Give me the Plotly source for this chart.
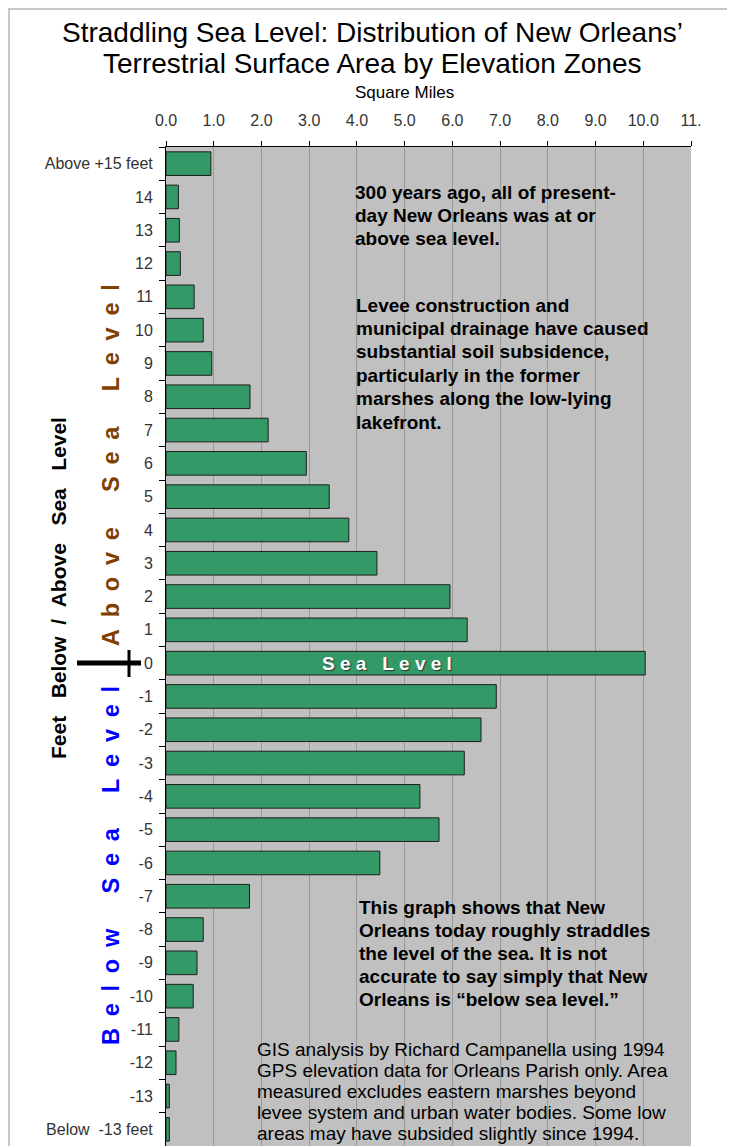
import plotly.graph_objects as go

# elevation zones, top to bottom, and area in square miles
elevation = ["Above +15 feet", "14", "13", "12", "11", "10", "9", "8", "7", "6",
             "5", "4", "3", "2", "1", "0", "-1", "-2", "-3", "-4",
             "-5", "-6", "-7", "-8", "-9", "-10", "-11", "-12", "-13", "Below  -13 feet"]
sq_miles = [0.94, 0.26, 0.28, 0.30, 0.59, 0.78, 0.96, 1.76, 2.14, 2.94,
            3.42, 3.83, 4.42, 5.95, 6.31, 10.04, 6.92, 6.60, 6.25, 5.32,
            5.72, 4.48, 1.75, 0.78, 0.65, 0.57, 0.27, 0.21, 0.07, 0.07]

x_tickvals = [0, 1, 2, 3, 4, 5, 6, 7, 8, 9, 10, 11]
x_ticktext = ["0.0", "1.0", "2.0", "3.0", "4.0", "5.0", "6.0", "7.0", "8.0", "9.0", "10.0", "11."]

title_lines = ["Straddling Sea Level: Distribution of New Orleans’",
               "Terrestrial Surface Area by Elevation Zones"]

note_past = ["300 years ago, all of present-",
             "day New Orleans was at or",
             "above sea level."]
note_levee = ["Levee construction and",
              "municipal drainage have caused",
              "substantial soil subsidence,",
              "particularly in the former",
              "marshes along the low-lying",
              "lakefront."]
note_straddle = ["This graph shows that New",
                 "Orleans today roughly straddles",
                 "the level of the sea. It is not",
                 "accurate to say simply that New",
                 "Orleans is “below sea level.”"]
note_source = ["GIS analysis by Richard Campanella using 1994",
               "GPS elevation data for Orleans Parish only. Area",
               "measured excludes eastern marshes beyond",
               "levee system and urban water bodies. Some low",
               "areas may have subsided slightly since 1994."]

FONT = "Liberation Sans, Arial, sans-serif"

# the page body has an 8px margin, so the figure sits at (8, 8) in the window
OFF = 8
PL, PR, PT, PB = 166, 691, 147, 1146      # plot area in window pixels
W, H = 735 - OFF, 1146 - OFF
ML, MT = PL - OFF, PT - OFF
MR, MB = W - (PR - OFF), H - (PB - OFF)


def px(x):
    return (x - PL) / (PR - PL)


def py(y):
    return (PB - y) / (PB - PT)


def spaced(text, gap="\u2002"):
    words = text.split()
    return (gap * 3).join(gap.join(w) for w in words)


fig = go.Figure()

fig.add_trace(
    go.Bar(
        y=elevation,
        x=sq_miles,
        orientation="h",
        marker=dict(color="#339966", line=dict(color="#1e1e1e", width=1)),
        hovertemplate="%{y}: %{x:.2f} sq mi<extra></extra>",
    )
)

annotations = []

# title, one annotation per line for tight leading
for i, line in enumerate(title_lines):
    annotations.append(dict(
        text=line, xref="paper", yref="paper", x=px(372), y=py(33 + 31 * i),
        xanchor="center", yanchor="middle", showarrow=False,
        font=dict(family=FONT, size=28, color="#000000"),
    ))

annotations.append(dict(
    text="Square Miles", xref="paper", yref="paper", x=px(404), y=py(92),
    xanchor="center", yanchor="middle", showarrow=False,
    font=dict(family=FONT, size=17, color="#000000"),
))


def add_block(lines, x0, y0, step, size, bold):
    for i, line in enumerate(lines):
        annotations.append(dict(
            text=line, xref="paper", yref="paper", x=px(x0), y=py(y0 + step * i),
            xanchor="left", yanchor="middle", showarrow=False,
            font=dict(family=FONT, size=size, color="#000000",
                      weight="bold" if bold else "normal"),
        ))


add_block(note_past, 353, 192, 23.4, 19, True)
add_block(note_levee, 354, 305, 23.4, 19, True)
add_block(note_straddle, 357, 907, 23.0, 19, True)
add_block(note_source, 255, 1049, 21.0, 19, False)

# sea level label inside the zero bar
annotations.append(dict(
    text=spaced("Sea Level", "\u00a0"), xref="x", yref="y",
    x=4.63, y=elevation.index("0"),
    xanchor="center", yanchor="middle", showarrow=False,
    font=dict(family=FONT, size=19, color="#ffffff", weight="bold",
              shadow="1px 1px 1px #333333"),
))

# vertical side labels
annotations.append(dict(
    text="Feet\u00a0\u00a0\u00a0Below\u00a0\u00a0/\u00a0\u00a0Above\u00a0\u00a0\u00a0Sea\u00a0\u00a0\u00a0Level",
    xref="paper", yref="paper", x=px(58), y=py(588),
    xanchor="center", yanchor="middle", textangle=-90, showarrow=False,
    font=dict(family=FONT, size=21, color="#000000", weight="bold"),
))
annotations.append(dict(
    text=spaced("Above Sea Level"), xref="paper", yref="paper", x=px(111), y=py(465),
    xanchor="center", yanchor="middle", textangle=-90, showarrow=False,
    font=dict(family=FONT, size=23.5, color="#804000", weight="bold"),
))
annotations.append(dict(
    text=spaced("Below Sea Level"), xref="paper", yref="paper", x=px(111), y=py(866),
    xanchor="center", yanchor="middle", textangle=-90, showarrow=False,
    font=dict(family=FONT, size=23.5, color="#0000ff", weight="bold"),
))

shapes = []
# gray panels behind the notes, hiding the gridlines
for x0, y0, x1, y1 in [(345, 178, 630, 252), (345, 292, 655, 433),
                       (345, 892, 660, 1013), (245, 1037, 680, 1146)]:
    shapes.append(dict(
        type="rect", xref="paper", yref="paper", layer="between",
        x0=px(x0), x1=px(x1), y0=py(y1), y1=py(y0),
        fillcolor="#c0c0c0", line=dict(width=0),
    ))

# sea level pointer at the left
shapes.append(dict(type="line", xref="paper", yref="paper",
                   x0=px(77), x1=px(141), y0=py(663), y1=py(663),
                   line=dict(color="#000000", width=5)))
shapes.append(dict(type="line", xref="paper", yref="paper",
                   x0=px(129), x1=px(129), y0=py(650), y1=py(677),
                   line=dict(color="#000000", width=3)))

# outer chart border (cropped on the right and bottom)
shapes.append(dict(type="rect", xref="paper", yref="paper", layer="below",
                   x0=px(9), x1=px(760), y0=py(1170), y1=py(9),
                   line=dict(color="#c8c8c8", width=2), fillcolor="rgba(0,0,0,0)"))

fig.update_layout(
    width=W,
    height=H,
    margin=dict(l=ML, r=MR, t=MT, b=MB, pad=0),
    paper_bgcolor="#ffffff",
    plot_bgcolor="#c0c0c0",
    showlegend=False,
    bargap=0.29,
    font=dict(family=FONT, color="#333333"),
    xaxis=dict(
        side="top",
        range=[0, 11],
        tickvals=x_tickvals,
        ticktext=x_ticktext,
        tickfont=dict(family=FONT, size=16, color="#333333"),
        ticks="outside",
        ticklen=5,
        tickcolor="#000000",
        ticklabelstandoff=9,
        showline=True,
        linecolor="#000000",
        linewidth=1,
        showgrid=True,
        gridcolor="#999999",
        gridwidth=1,
        zeroline=False,
        fixedrange=True,
    ),
    yaxis=dict(
        type="category",
        autorange="reversed",
        tickfont=dict(family=FONT, size=16, color="#333333"),
        ticks="outside",
        tickson="boundaries",
        ticklen=6,
        tickcolor="#000000",
        ticklabelstandoff=9,
        showline=True,
        linecolor="#000000",
        linewidth=1,
        showgrid=False,
        zeroline=False,
        fixedrange=True,
    ),
    annotations=annotations,
    shapes=shapes,
)

fig.write_html("out.html")
